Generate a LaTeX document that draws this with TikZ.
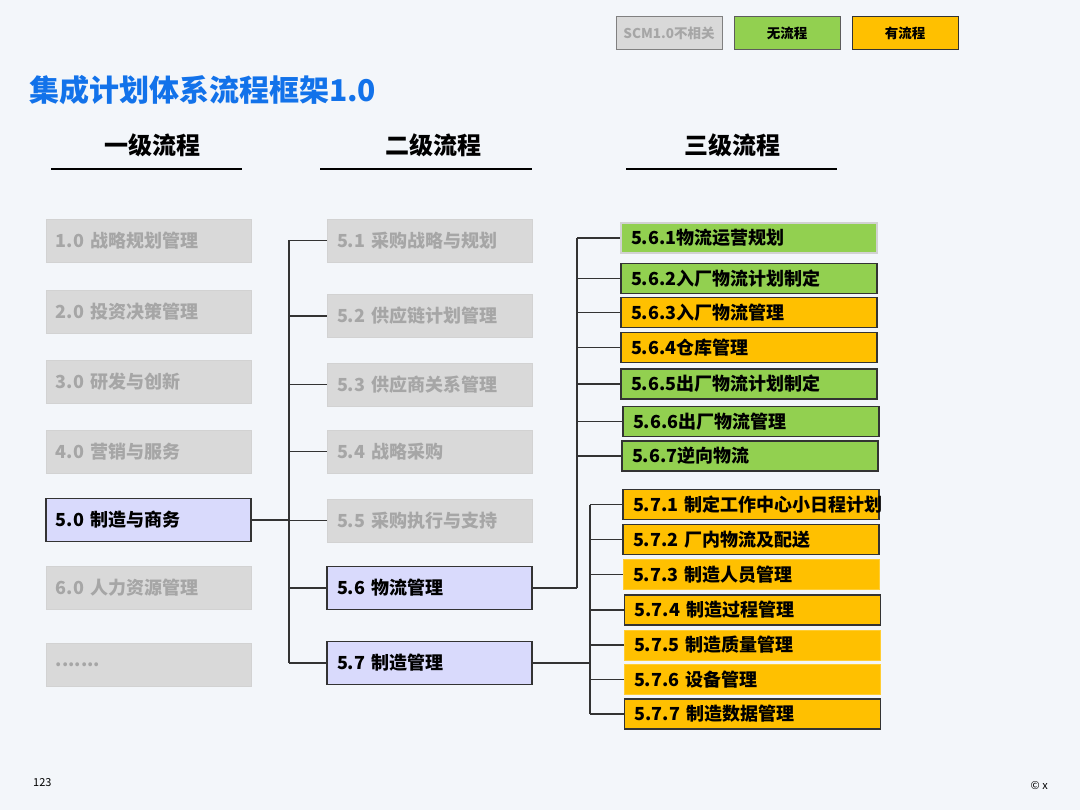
\documentclass[tikz,border=0pt]{standalone}
\usepackage{fontspec}
\setmainfont{Noto Sans CJK SC}
\definecolor{bg}{HTML}{F3F6FA}
\definecolor{gfill}{HTML}{D9D9D9}
\definecolor{gline}{HTML}{D2D2D2}
\definecolor{gtext}{HTML}{A6A6A6}
\definecolor{lav}{HTML}{D9DAFC}
\definecolor{grn}{HTML}{92D050}
\definecolor{ylw}{HTML}{FFC000}
\definecolor{ttl}{HTML}{1272EA}
\definecolor{conn}{HTML}{333333}
\tikzset{
  every node/.style={inner sep=0pt},
  lbox/.style={rectangle, minimum height=43, text width=185, inner xsep=10, align=left,
    font=\fontsize{18}{20}\selectfont\bfseries},
  gbox/.style={lbox, fill=gfill, draw=gline, line width=0.8pt, text=gtext},
  pbox/.style={lbox, fill=lav, draw=conn, line width=1.2pt, text=black},
  rbox/.style={rectangle, minimum height=30, text width=236, inner xsep=10, align=left,
    font=\fontsize{18}{20}\selectfont\bfseries, text=black},
  gnbox/.style={rbox, fill=grn, draw=conn, line width=1.2pt},
  ynbox/.style={rbox, fill=ylw, draw=conn, line width=1.2pt},
  ynlight/.style={rbox, fill=ylw, draw=ylw!80!white, line width=0.8pt},
  gnlight/.style={rbox, fill=grn, draw=gline, line width=1.2pt},
  legbox/.style={rectangle, minimum width=106, minimum height=33, line width=1pt,
    font=\fontsize{13.5}{15}\selectfont\bfseries},
  heading/.style={font=\fontsize{24}{26}\selectfont\bfseries},
  hline/.style={line width=2pt, black},
  conline/.style={conn, line width=1.3pt},
}
\begin{document}
\begin{tikzpicture}[x=1pt,y=-1pt]
\useasboundingbox (0,0) rectangle (1080,810);
\fill[bg] (0,0) rectangle (1080,810);

% legend
\node[legbox, fill=gfill, draw=gray, text=gtext] (lg1) at (669,33.5) {SCM1.0不相关};
\node[legbox, fill=grn, draw=conn!80, text=black] (lg2) at (787,33.5) {无流程};
\node[legbox, fill=ylw, draw=conn, text=black] (lg3) at (905,33.5) {有流程};

% title
\node[anchor=west, text=ttl, font=\fontsize{30}{32}\selectfont\bfseries] (title) at (29,90) {集成计划体系流程框架1.0};

% headings
\node[heading] (h1) at (152,145) {一级流程};
\node[heading] (h2) at (433,145) {二级流程};
\node[heading] (h3) at (732,145) {三级流程};
\draw[hline] (51,169) -- (242,169);
\draw[hline] (320,169) -- (532,169);
\draw[hline] (626,169) -- (837,169);

% level 1
\node[gbox] (n10) at (148.5,240.5) {1.0 战略规划管理};
\node[gbox] (n20) at (148.5,312) {2.0 投资决策管理};
\node[gbox] (n30) at (148.5,381.5) {3.0 研发与创新};
\node[gbox] (n40) at (148.5,451.5) {4.0 营销与服务};
\node[pbox] (n50) at (148.5,520) {5.0 制造与商务};
\node[gbox] (n60) at (148.5,587.5) {6.0 人力资源管理};
\node[gbox] (n70) at (148.5,664.5) {.......};

% level 2
\node[gbox] (n51) at (429.5,240.5) {5.1 采购战略与规划};
\node[gbox] (n52) at (429.5,316) {5.2 供应链计划管理};
\node[gbox] (n53) at (429.5,384.5) {5.3 供应商关系管理};
\node[gbox] (n54) at (429.5,451.5) {5.4 战略采购};
\node[gbox] (n55) at (429.5,520.5) {5.5 采购执行与支持};
\node[pbox] (n56) at (429.5,588) {5.6 物流管理};
\node[pbox] (n57) at (429.5,663) {5.7 制造管理};

% level 3 : 5.6
\node[gnlight] (n561) at (749,238) {5.6.1物流运营规划};
\node[gnbox] (n562) at (749,278.5) {5.6.2入厂物流计划制定};
\node[ynbox] (n563) at (749,312.5) {5.6.3入厂物流管理};
\node[ynbox] (n564) at (749,347.5) {5.6.4仓库管理};
\node[gnbox] (n565) at (749,384) {5.6.5出厂物流计划制定};
\node[gnbox] (n566) at (751,421.5) {5.6.6出厂物流管理};
\node[gnbox] (n567) at (750,456) {5.6.7逆向物流};

% level 3 : 5.7
\node[ynbox] (n571) at (751,504.5) {\mbox{5.7.1 制定工作中心小日程计划}};
\node[ynbox] (n572) at (751,539.5) {5.7.2 厂内物流及配送};
\node[ynlight] (n573) at (751,574.5) {5.7.3 制造人员管理};
\node[ynbox] (n574) at (752.5,610) {5.7.4 制造过程管理};
\node[ynlight] (n575) at (752,645) {5.7.5 制造质量管理};
\node[ynlight] (n576) at (752,679.5) {5.7.6 设备管理};
\node[ynbox] (n577) at (752.5,714) {5.7.7 制造数据管理};

% footer
\node[anchor=west, font=\fontsize{11}{12}\selectfont] (pg) at (33,783) {123};
\node[anchor=east, font=\fontsize{11}{12}\selectfont] (cp) at (1048,786) {© x};

% connectors level 1 -> 2
\coordinate (t1) at (289,0);
\draw[conline] (n50.east) -- (n50.east -| t1);
\draw[conline] (t1 |- n51.west) -- (t1 |- n57.west);
\foreach \n in {n51,n52,n53,n54,n55,n56,n57}
  \draw[conline] (t1 |- \n.west) -- (\n.west);

% connectors 5.6 -> 3
\coordinate (t2) at (577,0);
\draw[conline] (n56.east) -- (n56.east -| t2);
\draw[conline] (t2 |- n561.west) -- (t2 |- n56.east);
\foreach \n in {n561,n562,n563,n564,n565,n566,n567}
  \draw[conline] (t2 |- \n.west) -- (\n.west);

% connectors 5.7 -> 3
\coordinate (t3) at (590,0);
\draw[conline] (n57.east) -- (n57.east -| t3);
\draw[conline] (t3 |- n571.west) -- (t3 |- n577.west);
\foreach \n in {n571,n572,n573,n574,n575,n576,n577}
  \draw[conline] (t3 |- \n.west) -- (\n.west);
\end{tikzpicture}
\end{document}
